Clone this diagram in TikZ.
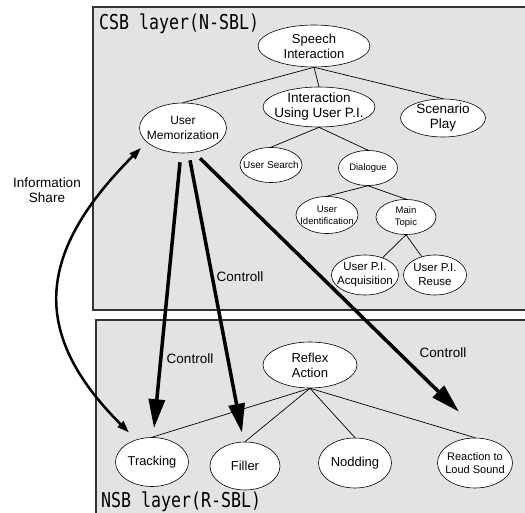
\documentclass[tikz,border=0pt]{standalone}
\usepackage{fontspec}
\usepackage{graphicx}
\setmainfont{Liberation Sans}
\newfontfamily\layerfont{DejaVu Sans Mono}
\usetikzlibrary{shapes.geometric,arrows.meta,calc}

\newcommand{\fz}[2]{\fontsize{#1}{#2}\selectfont}

\tikzset{
  layer/.style={draw=black!80,line width=1.2pt,fill=black!11},
  el/.style 2 args={ellipse,draw,fill=white,line width=0.6pt,inner sep=0pt,
    minimum width=#1pt,minimum height=#2pt},
  lbl/.style={align=center,inner sep=0pt},
  edge/.style={line width=0.7pt},
  ctl/.style={line width=3.5pt,-{Triangle[length=29pt,width=16pt]}},
  share/.style={line width=2.5pt,
    {Triangle[length=12pt,width=8pt]}-{Triangle[length=12pt,width=8pt]}},
  title/.style={anchor=base west,inner sep=0pt,font=\layerfont\fz{20.5}{21}},
}

\begin{document}
\begin{tikzpicture}[x=1pt,y=-1pt]
        \useasboundingbox (0,0) rectangle (525,513);
        \clip (0,0) rectangle (525,513);
        % draw the two layers
        \draw[layer] (93,7) rectangle (535,310);
        \draw[layer] (96,320) rectangle (535,525);
        \node[title] (csb) at (99,30) {\scalebox{0.81}[1]{CSB layer(N-SBL)}};
        \node[title] (nsb) at (101,507) {\scalebox{0.81}[1]{NSB layer(R-SBL)}};
        % draw nodes of the CSB layer
        \node[el={112}{42},label={[lbl,font=\fz{13}{15}]center:Speech\\Interaction}] (speech) at (314,46) {};
        \node[el={87}{50},label={[lbl,font=\fz{12}{15}]center:User\\Memorization}] (mem) at (183,128) {};
        \node[el={112}{40},label={[lbl,font=\fz{13.5}{15}]center:Interaction\\Using User P.I.}] (inter) at (319,107) {};
        \node[el={85}{38},label={[lbl,font=\fz{13.5}{15}]center:Scenario\\Play}] (scen) at (443,118) {};
        \node[el={62}{35},label={[lbl,font=\fz{10}{12}]center:User Search}] (usearch) at (271,165) {};
        \node[el={59}{35},label={[lbl,font=\fz{9.5}{11}]center:Dialogue}] (dial) at (368,168) {};
        \node[el={62}{37},label={[lbl,font=\fz{9.5}{12}]center:User\\Identification}] (uid) at (327,215) {};
        \node[el={60}{35},label={[lbl,font=\fz{9.5}{12}]center:Main\\Topic}] (mt) at (406,217) {};
        \node[el={67}{40},label={[lbl,font=\fz{11.5}{14}]center:User P.I.\\Acquisition}] (acq) at (365,275) {};
        \node[el={63}{40},label={[lbl,font=\fz{11.5}{14}]center:User P.I.\\Reuse}] (reuse) at (435,275) {};
        % draw nodes of the NSB layer
        \node[el={94}{46},label={[lbl,font=\fz{13}{15}]center:Reflex\\Action}] (reflex) at (310,365) {};
        \node[el={73}{49},label={[lbl,font=\fz{12.8}{15}]center:Tracking}] (track) at (152,462) {};
        \node[el={70}{48},label={[lbl,font=\fz{13}{15}]center:Filler}] (filler) at (245,466) {};
        \node[el={73}{50},label={[lbl,font=\fz{13}{15}]center:Nodding}] (nod) at (355,463) {};
        \node[el={75}{50},label={[lbl,font=\fz{11}{13}]center:Reaction to\\Loud Sound}] (loud) at (475,463) {};
        % draw tree edges
        \foreach \c in {mem,inter,scen}
        \draw[edge] (speech.south) -- (\c.north);
        \foreach \c in {usearch,dial}
        \draw[edge] (inter.south) -- (\c.north);
        \foreach \c in {uid,mt}
        \draw[edge] (dial.south) -- (\c.north);
        \foreach \c in {acq,reuse}
        \draw[edge] (mt.south) -- (\c);
        \foreach \c in {track,filler,nod,loud}
        \draw[edge] (reflex.south) -- (\c.north);
        % draw control arrows
        \draw[ctl] ($(mem.south)+(-3,9)$) -- ($(track.north)+(2,-9)$);
        \draw[ctl] ($(mem.south)+(7,7)$) -- ($(filler.north)+(-3,-9)$);
        \draw[ctl] ($(mem.south)+(17,5)$) -- ($(loud.north)+(-16,-26)$);
        \node[font=\fz{13.5}{15}] (ctl1) at (240,277) {Controll};
        \node[font=\fz{13.5}{15}] (ctl2) at (190,359) {Controll};
        \node[font=\fz{13.5}{15}] (ctl3) at (443,353) {Controll};
        % draw information share
        \draw[share] ($(mem.south west)+(-11,2)$) .. controls (39,250) and (27,331) .. ($(track.north west)+(3,-12)$);
        \node[font=\fz{13.5}{15},align=center] (info) at (47,190) {Information\\Share};
\end{tikzpicture}
\end{document}
